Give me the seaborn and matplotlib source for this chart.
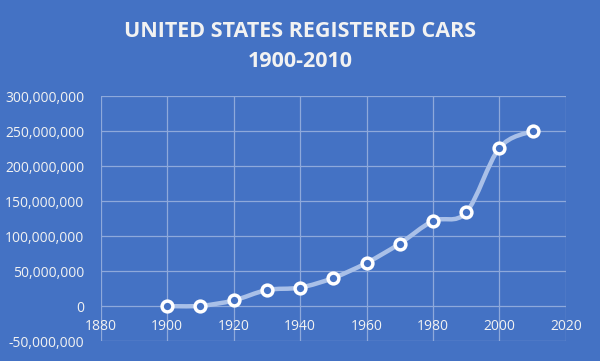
import matplotlib
matplotlib.use("Agg")
import matplotlib.pyplot as plt
from matplotlib.path import Path
from matplotlib.patches import PathPatch
from matplotlib.ticker import FuncFormatter
import seaborn as sns
import pandas as pd

# data
years = [1900, 1910, 1920, 1930, 1940, 1950, 1960, 1970, 1980, 1990, 2000, 2010]
cars = [8000, 458000, 8100000, 23000000, 26500000, 40300000, 61700000,
        89200000, 121600000, 133700000, 225800000, 250000000]
x_ticks = [1880, 1900, 1920, 1940, 1960, 1980, 2000, 2020]
y_ticks = [-50000000, 0, 50000000, 100000000, 150000000, 200000000, 250000000, 300000000]

BG = "#4472C4"
LINE = "#A9C0E8"
GRID = "#8EA9DB"
TXT = "#F2F2F2"

df = pd.DataFrame({"year": years, "cars": cars})

sns.set_style("white")
plt.rcParams["font.family"] = ["Open Sans", "DejaVu Sans"]

fig = plt.figure(figsize=(6, 3.61), dpi=100, facecolor=BG)
ax = fig.add_axes([0.168, 0.055, 0.775, 0.679])
ax.set_facecolor(BG)

# smoothed line (Catmull-Rom -> cubic bezier), in data coordinates
verts = [(years[0], cars[0])]
codes = [Path.MOVETO]
n = len(years)
for i in range(n - 1):
    p0 = (years[max(i - 1, 0)], cars[max(i - 1, 0)])
    p1 = (years[i], cars[i])
    p2 = (years[i + 1], cars[i + 1])
    p3 = (years[min(i + 2, n - 1)], cars[min(i + 2, n - 1)])
    c1 = (p1[0] + (p2[0] - p0[0]) / 6, p1[1] + (p2[1] - p0[1]) / 6)
    c2 = (p2[0] - (p3[0] - p1[0]) / 6, p2[1] - (p3[1] - p1[1]) / 6)
    verts += [c1, c2, p2]
    codes += [Path.CURVE4] * 3
ax.add_patch(PathPatch(Path(verts, codes), facecolor="none", edgecolor=LINE,
                       lw=3.2, capstyle="round", zorder=3))

sns.scatterplot(data=df, x="year", y="cars", ax=ax, s=60, color=BG,
                edgecolor="white", linewidth=2.5, zorder=4, legend=False)

ax.set_xlim(1880, 2020)
ax.set_ylim(-50000000, 300000000)
ax.set_xticks(x_ticks)
ax.set_yticks(y_ticks)
ax.yaxis.set_major_formatter(FuncFormatter(lambda v, p: f"{int(v):,}"))
ax.grid(True, color=GRID, lw=0.9)
ax.set_axisbelow(True)
for s in ["top", "right", "left"]:
    ax.spines[s].set_visible(False)
ax.spines["bottom"].set_position(("data", 0))
ax.spines["bottom"].set_visible(False)
ax.tick_params(axis="both", length=0, colors=TXT, labelsize=10)
ax.tick_params(axis="x", pad=9)
ax.tick_params(axis="y", pad=12)
ax.set_xlabel("")
ax.set_ylabel("")

fig.text(0.5, 0.912, "UNITED STATES REGISTERED CARS", ha="center", va="center",
         color=TXT, fontsize=15.5, fontweight="bold")
fig.text(0.5, 0.83, "1900-2010", ha="center", va="center",
         color=TXT, fontsize=15.5, fontweight="bold")

fig.savefig("out.png", dpi=100, facecolor=BG)
